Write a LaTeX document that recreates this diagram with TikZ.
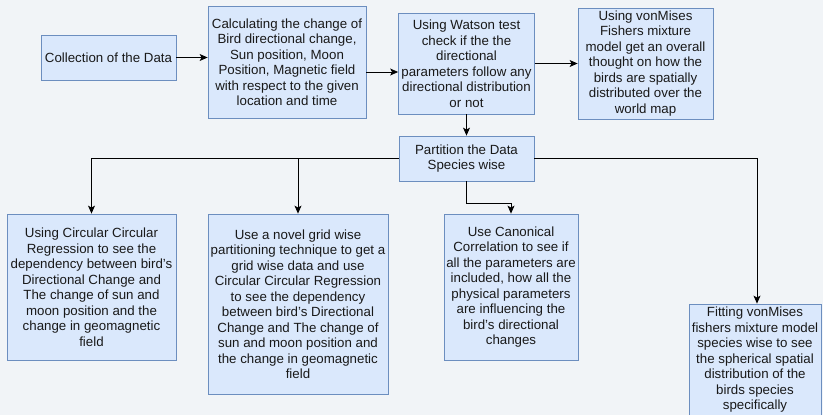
\documentclass[tikz,border=0pt]{standalone}
\usepackage{fontspec}
\setmainfont{Liberation Sans}
\usetikzlibrary{arrows.meta}
\definecolor{boxfill}{HTML}{DAE8FC}
\definecolor{boxline}{HTML}{6C8EBF}
\definecolor{backdrop}{HTML}{F1F4F7}

\begin{document}
\begin{tikzpicture}[x=1pt,y=-1pt,
	stage/.style={draw=boxline, fill=boxfill, line width=0.8pt, align=center, inner sep=0pt,
		text=black!90, font=\fontsize{13.3}{15.5}\selectfont},
	flow/.style={draw=black, line width=0.8pt, -{Stealth[length=8pt,width=7pt,inset=2pt]}}]
	\fill[backdrop] (0,0) rectangle (823,415);
	\useasboundingbox (0,0) rectangle (823,415);

	\path (108.5,57.5) node[stage, minimum width=135pt, minimum height=45pt] (collect) {Collection of the Data};
	\path (287,62) node[stage, minimum width=158pt, minimum height=112pt] (calc) {Calculating the change of\\Bird directional change,\\Sun position, Moon\\Position, Magnetic field\\with respect to the given\\location and time};
	\path (466.5,63.5) node[stage, minimum width=136pt, minimum height=101pt] (watson) {Using Watson test\\check if the the\\directional\\parameters follow any\\directional distribution\\or not};
	\path (645.5,63.5) node[stage, minimum width=135pt, minimum height=111pt] (vmf) {Using vonMises\\Fishers mixture\\model get an overall\\thought on how the\\birds are spatially\\distributed over the\\world map};
	\path (466.5,158.5) node[stage, minimum width=135pt, minimum height=45pt] (part) {Partition the Data\\Species wise};

	\path (91.5,287) node[stage, minimum width=169pt, minimum height=146pt] (ccr) {Using Circular Circular\\Regression to see the\\dependency between bird's\\Directional Change and\\The change of sun and\\moon position and the\\change in geomagnetic\\field};
	\path (298,304) node[stage, minimum width=180pt, minimum height=180pt] (grid) {Use a novel grid wise\\partitioning technique to get a\\grid wise data and use\\Circular Circular Regression\\to see the dependency\\between bird's Directional\\Change and The change of\\sun and moon position and\\the change in geomagnetic\\field};
	\path (511,287) node[stage, minimum width=134pt, minimum height=146pt] (cca) {Use Canonical\\Correlation to see if\\all the parameters are\\included, how all the\\physical parameters\\are influencing the\\bird's directional\\changes};
	\path (755,360) node[stage, minimum width=132pt, minimum height=112pt] (fit) {Fitting vonMises\\fishers mixture model\\species wise to see\\the spherical spatial\\distribution of the\\birds species\\specifically};

	\draw[flow] (collect.east) -- (collect.east -| calc.west);
	\draw[flow] ([yshift=-10pt]calc.east) -- ([yshift=-10pt]calc.east -| watson.west);
	\draw[flow] (watson.east) -- (vmf.west);
	\draw[flow] (watson.south) -- (part.north);

	\draw[flow] (part.west) -| (ccr.north);
	\draw[flow] (grid.north |- part.west) -- (grid.north);
	\draw[flow] (part.east) -| ([xshift=2pt]fit.north);
	\draw[flow] (part.south) -- ++(0,22) -| (cca.north);
\end{tikzpicture}
\end{document}
